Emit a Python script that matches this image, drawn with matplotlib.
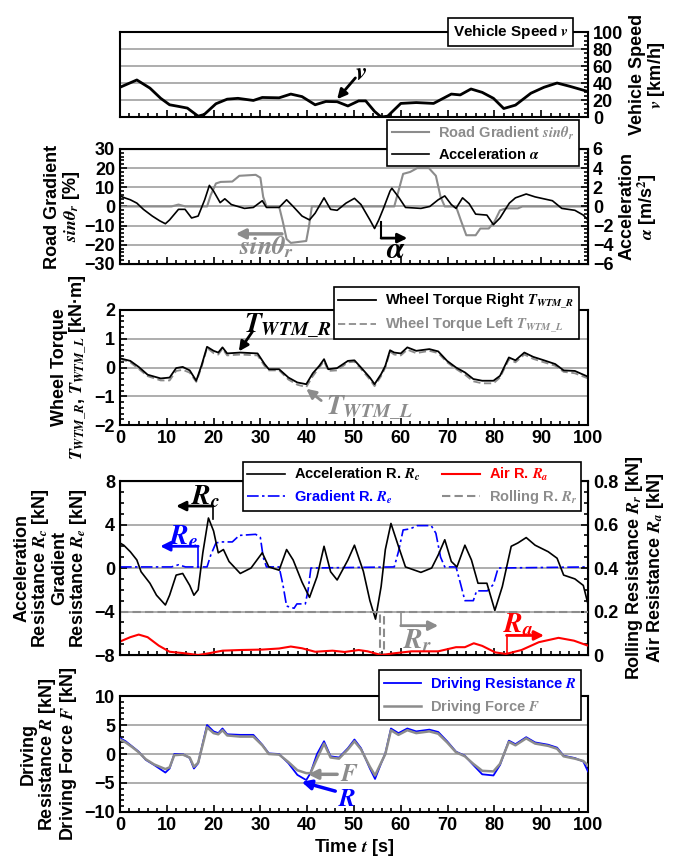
import matplotlib
matplotlib.use("Agg")
from matplotlib import pyplot as plt, ticker

plt.rcParams['font.family'] = ['Liberation Sans', 'DejaVu Sans']
plt.rcParams['font.weight'] = 'bold'
plt.rcParams['axes.labelweight'] = 'bold'
plt.rcParams['mathtext.fontset'] = 'stix'

# ---- data ----
t_v = [0, 3.6, 6.4, 8.7, 10.6, 12.5, 14.4, 16.7, 18, 20.5, 22.9, 25.2, 28.5, 30.4, 34, 36.5, 38.9,
       41.7, 44, 46.4, 48.7, 51, 52.5, 54.4, 55.8, 57.2, 60, 63.3, 67, 70.8, 72.7, 75, 77.4, 79.8,
       82, 84.5, 87.8, 90.6, 93.4, 96.2, 100]
speed = [35, 43.6, 34, 22, 14.4, 12.5, 10.5, 1, 3, 15.6, 21, 22, 19.5, 23, 22.6, 27, 24,
         14.4, 18.3, 18, 13, 19, 19, 6.6, 0, 1, 16, 17, 16, 27, 26, 33, 29, 22,
         10, 14, 28, 35, 40, 36, 30]

t_g = [0, 11, 12.5, 14, 18.6, 19.4, 20.5, 21.5, 24, 25.5, 29, 30, 30.6, 31.3, 34, 34.8, 35.6, 36.5,
       39.8, 40.4, 41, 58.6, 59.5, 60.5, 62, 63.5, 66, 67.5, 68.5, 69.4, 71.8, 72.8, 74, 76, 77,
       78.8, 80, 81.2, 82.5, 85, 86, 100]
gradient = [0, 0, 1, 0, 0, 6, 12, 12.8, 13, 16, 16.5, 15, 5, 0, 0, -8, -17, -19,
            -18, -10, 0, 0, 8, 17, 18, 20, 20, 16, 5, 0, 0, -7, -15, -15, -11.5,
            -11.5, -8, -2, -1, -1, 0, 0]

t_a = [0, 1, 2.2, 3.6, 5, 6.9, 8.5, 9.7, 10.6, 12.5, 13.9, 15.3, 16.7, 18.1, 19.1, 20, 21.4, 22.4,
       23.8, 26.6, 28.5, 30.4, 31.3, 34, 35.6, 37, 38.9, 40.5, 41.7, 43.6, 45, 46.4, 48.3, 50.1,
       51.5, 53.4, 54.4, 55.3, 56.3, 57.7, 58.1, 59.5, 61, 64.3, 66.2, 68, 69.4, 70.8, 71.8, 73.2,
       74.6, 76, 78.4, 79.8, 81.2, 83.2, 84.5, 86.8, 88.7, 92.4, 94.4, 97.2, 99, 100]
accel = [1.1, 0.9, 0.7, 0.35, -0.3, -1.0, -1.5, -1.8, -1.4, -0.3, -0.3, -1.2, -1.0, 0.7, 2.2, 1.6, 0.4, 0.8,
         0.2, -0.2, -0.1, 0.6, -0.1, -0.1, 0.7, 0, -1.0, -1.4, -0.7, 0.9, -0.3, -0.4, 0.35, 0.85,
         0.2, -1.4, -2.3, -1.4, -0.2, 1.6, 1.9, 1.0, -0.1, -0.2, 0, 0.7, 1.1, 0.2, -0.2, 0.9,
         0.3, -0.8, -0.9, -1.9, -1.2, 0.35, 0.9, 1.3, 1.0, 0.6, -0.2, -0.4, -0.9, -1.4]

t_tq = [0, 2.2, 4, 5.9, 8.7, 10.6, 12, 13.4, 14.9, 16.3, 17.4, 18.6, 20, 21, 21.9, 22.9, 25.7, 29.4,
        30.9, 31.8, 34, 36, 37.9, 39.8, 41.2, 42.6, 43.6, 44.5, 46.4, 48.7, 50.1, 51.5, 53.4, 54.4,
        55.8, 56.7, 57.7, 58.6, 60, 61.4, 63.3, 66.1, 68, 69.9, 71.8, 73.7, 75.5, 77.4, 79.8, 81.2,
        83.1, 84.5, 86.4, 88.3, 90.6, 93, 94.8, 97.2, 100]
torque_r = [0.32, 0.23, 0.02, -0.25, -0.38, -0.35, -0.02, 0.02, -0.1, -0.46, 0.06, 0.72, 0.58, 0.52, 0.7, 0.49, 0.52, 0.49,
            0.12, -0.06, -0.06, -0.35, -0.52, -0.58, -0.2, 0.06, 0.29, -0.06, -0.02, 0.23, 0.25, 0, -0.35, -0.58,
            -0.23, 0.06, 0.6, 0.52, 0.49, 0.7, 0.58, 0.64, 0.56, 0.23, 0, -0.17, -0.4, -0.46, -0.46, -0.29,
            0.35, 0.25, 0.52, 0.37, 0.25, 0.12, -0.1, -0.12, -0.32]
torque_l = [0.3, 0.18, -0.05, -0.3, -0.45, -0.45, -0.12, -0.08, -0.18, -0.5, 0.0, 0.68, 0.5, 0.45, 0.65, 0.42, 0.45, 0.42,
            0.05, -0.1, -0.1, -0.42, -0.6, -0.68, -0.3, 0.0, 0.22, -0.12, -0.1, 0.18, 0.2, -0.05, -0.42, -0.65,
            -0.3, 0.0, 0.55, 0.45, 0.42, 0.62, 0.5, 0.58, 0.5, 0.18, -0.05, -0.25, -0.48, -0.55, -0.55, -0.35,
            0.28, 0.18, 0.45, 0.3, 0.18, 0.06, -0.15, -0.2, -0.38]

t_rc = [0, 0.8, 2.2, 3.6, 4.5, 6.4, 7.8, 9.7, 10.6, 12, 13.4, 14.9, 15.8, 16.7, 17.7, 18.9, 20, 21,
        22.1, 23.3, 25.7, 28, 30.4, 31.8, 34, 35.6, 37, 38.9, 40.5, 42.1, 43.6, 45, 46.4, 48.7,
        50.1, 52, 53.4, 54.6, 55.8, 56.7, 57.9, 59.5, 61, 64.3, 66.6, 68, 69.4, 70.8, 72, 73.7,
        75.1, 76.5, 78.4, 80.1, 81.7, 83.6, 85, 86.8, 88.7, 91.5, 93.4, 94.8, 97.2, 99, 100]
res_c = [2.3, 2.1, 1.5, 0.74, -0.34, -1.4, -2.5, -3.4, -2.5, -0.65, -0.5, -1.6, -2.5, -2, 1.4, 4.6, 3.4, 1.4,
         1.7, 0.6, -0.5, 0, 1.4, 0.1, -0.2, 1.7, 0.74, -1.3, -2.7, -0.8, 2, -0.34, -1.1, 0.74,
         2.1, -0.3, -3, -4.7, -1.7, 1.7, 4.1, 2, 0.1, -0.4, 0, 1.2, 2.6, 0.6, 0.1, 2.1,
         0.74, -1.4, -1.4, -3.9, -1.7, 2, 2.3, 2.8, 2.1, 1.5, 0.9, -0.65, -1, -1.6, -3.3]

t_re = [0, 11, 12.5, 14, 18.6, 19.4, 20.5, 21.5, 24, 25.5, 29, 30, 30.6, 31.3, 34, 34.8, 35.6, 37.2,
        37.8, 39.6, 40.2, 40.8, 58.6, 59.5, 60.5, 62, 63.5, 66.5, 67.5, 68.5, 69.4, 71.8, 72.8, 73.7,
        75.5, 76.2, 78.5, 79.8, 80.8, 100]
res_e = [0.1, 0.1, 0.3, 0.1, 0.1, 1.2, 2.3, 2.4, 2.4, 3.0, 3.1, 2.8, 1.0, 0.1, 0.1, -1.5, -3.5, -3.7,
         -3.3, -3.3, -2.0, 0.0, 0.1, 1.5, 3.5, 3.6, 3.9, 3.9, 3.2, 1.0, 0.1, 0.1, -1.5, -3.0,
         -3.0, -2.1, -2.1, -1.5, 0.0, 0.1]

t_rr = [0, 55.6, 55.6, 56.5, 56.5, 100]
res_r = [0.2, 0.2, 0, 0, 0.2, 0.2]

t_ra = [0, 2.2, 4, 5.9, 8.3, 10.6, 13.4, 16.7, 19, 21.9, 25.7, 30.4, 34, 36.5, 38.9, 41.7, 45.4, 48,
        51, 52.9, 55.8, 58.6, 62.3, 68, 71.8, 73.7, 75.6, 77.4, 80.2, 82.5, 85.8, 89.5, 93.7, 97, 100]
res_a = [0.062, 0.082, 0.094, 0.082, 0.043, 0.015, 0.009, 0.0, 0.008, 0.02, 0.023, 0.025, 0.03, 0.039, 0.031, 0.015, 0.02, 0.014,
         0.023, 0.017, 0.0, 0.008, 0.017, 0.017, 0.036, 0.036, 0.054, 0.042, 0.012, 0.005, 0.023, 0.059, 0.079, 0.066, 0.043]

t_rf = [0, 1.2, 2.6, 4, 5.5, 7.3, 9.7, 10.6, 11.6, 13.4, 14.9, 15.8, 16.7, 17.7, 18.6, 20, 21, 21.9,
        22.9, 25.7, 28.5, 30.4, 31.8, 34, 36, 37.9, 39.8, 40.7, 42.1, 43.6, 45, 46.8, 48.7, 50.1,
        51.5, 53.4, 54.5, 55.8, 56.7, 57.9, 59.5, 61.4, 63.3, 66.1, 68, 69.9, 71.8, 73.7, 75.5, 77.4,
        79.8, 81.2, 83.1, 84.5, 86.8, 88.7, 91.5, 93.4, 94.8, 97.2, 99, 100]
drive_res = [2.75, 2.2, 1.3, 0.4, -1, -1.9, -3.2, -2.5, 0, 0, -0.7, -2.5, -1.6, 1.9, 5, 3.9, 3.6, 4.4,
             3.4, 3.3, 3.3, 1.6, 0.1, 0, -1.6, -3.6, -4.5, -3.3, 0, 2.2, -0.4, -0.6, 1, 2.5,
             1, -2.5, -4.3, -1.6, 0.1, 4.4, 3.6, 4.4, 3.9, 4.2, 3.8, 2.2, 0.4, -0.3, -1.9, -3.5,
             -3.7, -1.9, 2.3, 1.7, 2.9, 2, 1.6, 1.1, -0.3, -0.7, -1.3, -3]
drive_force = [2.5, 2.0, 1.2, 0.3, -0.9, -1.8, -2.6, -2.3, -0.2, -0.1, -0.6, -2.2, -1.5, 1.7, 4.6, 3.6, 3.4, 4.1,
               3.2, 3.0, 3.0, 1.5, 0.0, -0.1, -1.4, -2.8, -3.3, -3.3, -0.8, 1.8, -0.6, -0.8, 0.8, 2.2,
               0.8, -2.2, -3.7, -1.5, 0.0, 4.1, 3.3, 4.1, 3.6, 3.9, 3.5, 2.0, 0.3, -0.4, -1.7, -2.9,
               -3.0, -1.7, 2.1, 1.5, 2.7, 1.8, 1.4, 0.9, -0.4, -0.8, -1.2, -2.0]

GRAY = '#8c8c8c'
BLUE = '#0000ff'
RED = '#ff0000'
TICK_FS = 13
LAB_FS = 13
LEG_FS = 10.5

fig = plt.figure(figsize=(6.81, 8.63), dpi=100)
L, W = 0.1762, 0.6872


def base(ax, ylim, major, minor, grid=True):
    ax.set_xlim(0, 100)
    ax.set_ylim(*ylim)
    ax.xaxis.set_major_locator(ticker.MultipleLocator(10))
    ax.xaxis.set_minor_locator(ticker.MultipleLocator(2))
    ax.yaxis.set_major_locator(ticker.MultipleLocator(major))
    ax.yaxis.set_minor_locator(ticker.MultipleLocator(minor))
    ax.tick_params(which='both', direction='in', labelsize=TICK_FS, width=1.2)
    ax.tick_params(which='major', length=5)
    ax.tick_params(which='minor', length=3)
    for s in ax.spines.values():
        s.set_linewidth(1.5)
    if grid:
        ax.yaxis.grid(True, color='#a0a0a0', lw=1.2)
        ax.set_axisbelow(True)


def twin(ax, ylim, major, minor, fmt=None):
    tw = ax.twinx()
    tw.set_ylim(*ylim)
    tw.yaxis.set_major_locator(ticker.MultipleLocator(major))
    tw.yaxis.set_minor_locator(ticker.MultipleLocator(minor))
    tw.tick_params(which='both', direction='in', labelsize=TICK_FS, width=1.2)
    tw.tick_params(which='major', length=5)
    tw.tick_params(which='minor', length=3)
    if fmt:
        tw.yaxis.set_major_formatter(ticker.FuncFormatter(fmt))
    return tw


def arrow(ax, tail, head, color, lw=2.0):
    ax.annotate('', xy=head, xytext=tail,
                arrowprops=dict(arrowstyle='-|>', color=color, lw=lw, mutation_scale=14,
                                shrinkA=0, shrinkB=0), annotation_clip=False)


def legend(ax, handles, labels, anchor, ncol=1, colors=None):
    lg = ax.legend(handles, labels, loc='upper right', bbox_to_anchor=anchor, ncol=ncol,
                   fontsize=LEG_FS, frameon=True, fancybox=False, framealpha=1,
                   edgecolor='black', handlelength=2.6, borderaxespad=0, columnspacing=1.5,
                   handletextpad=0.6, borderpad=0.3, labelspacing=0.35)
    lg.get_frame().set_linewidth(1.2)
    lg.set_zorder(20)
    if colors:
        for txt, c in zip(lg.get_texts(), colors):
            txt.set_color(c)
    return lg


def fmt0(x, pos):
    return '0' if abs(x) < 1e-9 else ('%g' % x)


# ---- panel 1: vehicle speed ----
ax1 = fig.add_axes([L, 0.8644, W, 0.0985])
base(ax1, (0, 100), 20, 5)
ax1.yaxis.tick_right()
ax1.yaxis.set_label_position('right')
ax1.tick_params(axis='y', which='both', left=False, right=True)
ax1.tick_params(labelbottom=False)
ax1.plot(t_v, speed, color='black', lw=2.0)
ax1.set_ylabel('Vehicle Speed\n$v$ [km/h]', fontsize=LAB_FS, rotation=90, labelpad=4, linespacing=1.0)
ax1.text(0.835, 1.0, 'Vehicle Speed $v$', transform=ax1.transAxes, ha='center', va='center',
         fontsize=LEG_FS + 0.5, zorder=20,
         bbox=dict(boxstyle='square,pad=0.3', fc='white', ec='black', lw=1.2))
ax1.text(50.3, 52, '$v$', fontsize=18, ha='left', va='center')
arrow(ax1, (50.3, 46), (46.4, 21), 'black')

# ---- panel 2: road gradient / acceleration ----
ax2 = fig.add_axes([L, 0.6941, W, 0.1333])
base(ax2, (-30, 30), 10, 2)
ax2.tick_params(labelbottom=False)
ax2r = twin(ax2, (-6, 6), 2, 0.4)
g_line, = ax2.plot(t_g, gradient, color=GRAY, lw=1.5)
a_line, = ax2r.plot(t_a, accel, color='black', lw=1.2)
ax2.set_ylabel('Road Gradient\n$sin\\theta_r$ [%]', fontsize=LAB_FS, linespacing=1.0, labelpad=2)
ax2r.set_ylabel('Acceleration\n$\\alpha$ [m/s$^2$]', fontsize=LAB_FS, linespacing=1.0, labelpad=4)
ax2r.set_zorder(ax2.get_zorder() + 1)
ax2r.patch.set_visible(False)
legend(ax2r, [g_line, a_line], ['Road Gradient $sin\\theta_r$', 'Acceleration $\\alpha$'],
       (0.98, 1.25), colors=[GRAY, 'black'])
arrow(ax2, (34.6, -14.3), (24.7, -14.3), GRAY, lw=2.5)
ax2.text(25.5, -21, '$sin\\theta_r$', color=GRAY, fontsize=19, ha='left', va='center')
ax2.plot([55.8, 55.8], [-8, -16.5], color='black', lw=1.5)
arrow(ax2, (55.8, -16.5), (61.4, -16.5), 'black')
ax2.text(56.8, -22.5, '$\\alpha$', fontsize=22, ha='left', va='center')

# ---- panel 3: wheel torque ----
ax3 = fig.add_axes([L, 0.5075, W, 0.1333])
base(ax3, (-2, 2), 1, 0.2)
ax3.tick_params(axis='y', which='both', right=False)
tr_line, = ax3.plot(t_tq, torque_r, color='black', lw=1.3, zorder=3)
tl_line, = ax3.plot(t_tq, torque_l, color=GRAY, lw=1.3, ls=(0, (4, 2)), zorder=2)
ax3.set_ylabel('Wheel Torque\n$T_{WTM\\_R}$, $T_{WTM\\_L}$ [kN\u00b7m]', fontsize=LAB_FS,
               linespacing=1.0, labelpad=4)
legend(ax3, [tr_line, tl_line], ['Wheel Torque Right $T_{WTM\\_R}$', 'Wheel Torque Left $T_{WTM\\_L}$'],
       (0.98, 1.2), colors=['black', GRAY])
ax3.text(26.5, 1.45, '$T_{WTM\\_R}$', fontsize=20, ha='left', va='center')
arrow(ax3, (28.3, 1.25), (25.4, 0.56), 'black')
ax3.text(44, -1.4, '$T_{WTM\\_L}$', fontsize=20, color=GRAY, ha='left', va='center')
arrow(ax3, (43, -1.15), (39.8, -0.74), GRAY)

# ---- panel 4: resistances ----
ax4 = fig.add_axes([L, 0.2410, W, 0.2016])
base(ax4, (-8, 8), 4, 1)
ax4.tick_params(labelbottom=False)
ax4r = twin(ax4, (0, 0.8), 0.2, 0.05, fmt=fmt0)
rc_line, = ax4.plot(t_rc, res_c, color='black', lw=1.2, zorder=4)
re_line, = ax4.plot(t_re, res_e, color=BLUE, lw=1.2, ls=(0, (7, 2, 1.5, 2)), zorder=3)
rr_line, = ax4r.plot(t_rr, res_r, color=GRAY, lw=1.5, ls=(0, (4, 2)))
ra_line, = ax4r.plot(t_ra, res_a, color=RED, lw=1.5)
ax4r.set_zorder(ax4.get_zorder() + 1)
ax4r.patch.set_visible(False)
ax4.set_ylabel('Acceleration\nResistance $R_c$ [kN]\nGradient\nResistance $R_e$ [kN]',
               fontsize=LAB_FS, linespacing=1.0, labelpad=4)
ax4r.set_ylabel('Rolling Resistance $R_r$ [kN]\nAir Resistance $R_a$ [kN]',
                fontsize=LAB_FS, linespacing=1.0, labelpad=4)
legend(ax4r, [rc_line, re_line, ra_line, rr_line],
       ['Acceleration R. $R_c$', 'Gradient R. $R_e$', 'Air R. $R_a$', 'Rolling R. $R_r$'],
       (0.986, 1.11), ncol=2, colors=['black', BLUE, RED, GRAY])
ax4.text(18.2, 6.6, '$R_c$', fontsize=20, ha='center', va='center')
ax4.plot([19.8, 19.8], [4.5, 5.7], color='black', lw=1.2)
arrow(ax4, (19.8, 5.7), (12, 5.7), 'black')
ax4.text(13.6, 2.9, '$R_e$', fontsize=20, color=BLUE, ha='center', va='center')
ax4.plot([16.7, 16.7], [0.1, 2.0], color=BLUE, lw=1.2)
arrow(ax4, (16.7, 2.0), (8.6, 2.0), BLUE)
ax4.plot([60, 60], [-4, -5.3], color=GRAY, lw=1.2)
arrow(ax4, (60, -5.3), (68, -5.3), GRAY)
ax4.text(63.5, -6.7, '$R_r$', fontsize=20, color=GRAY, ha='center', va='center')
ax4.plot([82.6, 82.6], [-7.8, -6.2], color=RED, lw=1.2)
arrow(ax4, (82.6, -6.2), (90.6, -6.2), RED)
ax4.text(85, -5.2, '$R_a$', fontsize=20, color=RED, ha='center', va='center')

# ---- panel 5: driving resistance / driving force ----
ax5 = fig.add_axes([L, 0.0591, W, 0.1344])
base(ax5, (-10, 10), 5, 1)
ax5.tick_params(axis='y', which='both', right=False)
r_line, = ax5.plot(t_rf, drive_res, color=BLUE, lw=1.3, zorder=3)
f_line, = ax5.plot(t_rf, drive_force, color=GRAY, lw=1.8, zorder=4)
ax5.set_ylabel('Driving\nResistance $R$ [kN]\nDriving Force $F$ [kN]', fontsize=LAB_FS,
               linespacing=1.0, labelpad=4)
ax5.set_xlabel('Time $t$ [s]', fontsize=LAB_FS, labelpad=2)
legend(ax5, [r_line, f_line], ['Driving Resistance $R$', 'Driving Force $F$'],
       (0.986, 1.22), colors=[BLUE, GRAY])
arrow(ax5, (46.4, -3.5), (40.2, -3.5), GRAY, lw=2.5)
ax5.text(47, -3.4, '$F$', fontsize=18, color=GRAY, ha='left', va='center')
arrow(ax5, (46, -6.4), (38.8, -4.8), BLUE, lw=2.5)
ax5.text(46.5, -7.7, '$R$', fontsize=18, color=BLUE, ha='left', va='center')

fig.savefig('out.png', dpi=100)
